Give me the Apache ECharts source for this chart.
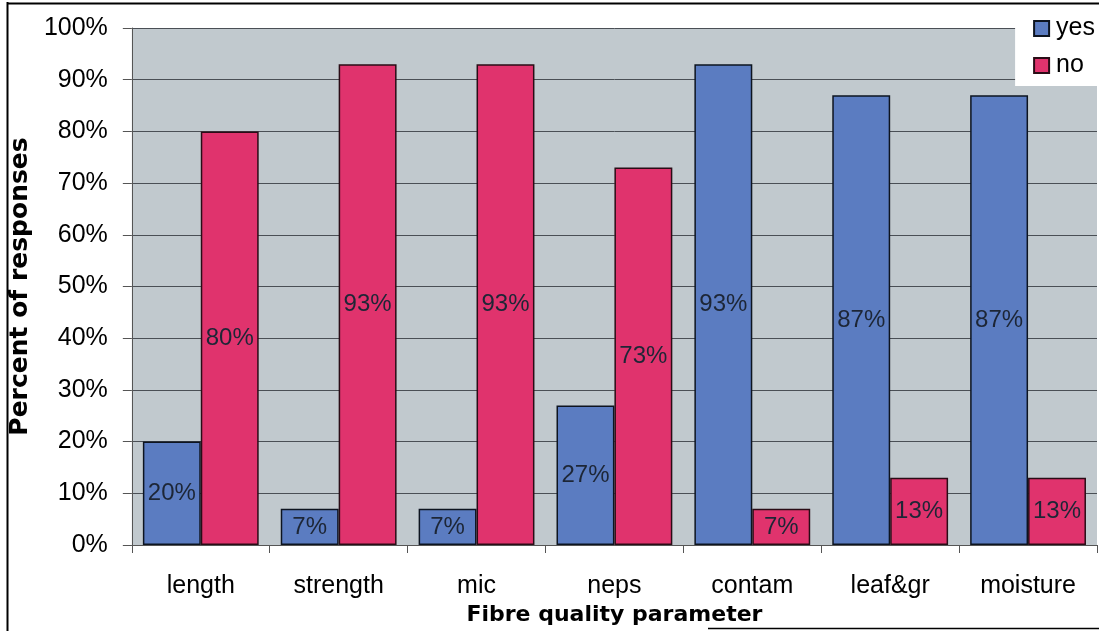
<!DOCTYPE html>
<html>
<head>
<meta charset="utf-8">
<script src="https://cdn.jsdelivr.net/npm/echarts@6/dist/echarts.min.js"></script>
<style>
  html, body { margin: 0; padding: 0; background: #ffffff; }
  #chart { width: 1099px; height: 631px; }
</style>
</head>
<body>
<div id="chart"></div>
<script>
// Survey: is each fibre quality parameter measured? (percent of responses)
const categories = ['length', 'strength', 'mic', 'neps', 'contam', 'leaf&gr', 'moisture'];
const yesValues = [20, 7, 7, 27, 93, 87, 87];
const noValues = [80, 93, 93, 73, 7, 13, 13];
const yTicks = { min: 0, max: 100, interval: 10 };

const FONT = '"Liberation Sans", Arial, sans-serif';
const TITLE_FONT = '"DejaVu Sans", "Liberation Sans", sans-serif';

const barLabel = {
  show: true,
  position: 'inside',
  formatter: p => p.value + '%',
  color: '#1d2636',
  fontFamily: FONT,
  fontSize: 24
};

const chart = echarts.init(document.getElementById('chart'), null, { renderer: 'canvas' });

chart.setOption({
  animation: false,
  backgroundColor: '#ffffff',
  graphic: [
    // outer frame
    { type: 'line', z: 100, shape: { x1: 7.5, y1: 2, x2: 7.5, y2: 631 }, style: { stroke: '#000', lineWidth: 2 } },
    { type: 'line', z: 100, shape: { x1: 7, y1: 3.5, x2: 1099, y2: 3.5 }, style: { stroke: '#000', lineWidth: 2 } },
    { type: 'line', z: 100, shape: { x1: 708, y1: 628.5, x2: 1099, y2: 628.5 }, style: { stroke: '#000', lineWidth: 1.5 } }
  ],
  grid: {
    left: 130, top: 28, right: 2, bottom: 86,
    show: true,
    backgroundColor: '#c1c9ce',
    borderWidth: 0
  },
  legend: {
    orient: 'vertical',
    right: 0,
    top: 6,
    padding: [10, 4, 8, 18],
    itemGap: 12,
    itemWidth: 15,
    itemHeight: 15,
    backgroundColor: '#ffffff',
    icon: 'rect',
    textStyle: { fontFamily: FONT, fontSize: 25, color: '#000', padding: [0, 0, 0, 2] },
    data: ['yes', 'no']
  },
  xAxis: {
    type: 'category',
    data: categories,
    name: 'Fibre quality parameter',
    nameLocation: 'middle',
    nameGap: 47,
    nameTextStyle: { fontFamily: TITLE_FONT, fontSize: 22, fontWeight: 'bold', color: '#000' },
    axisLine: { show: true, lineStyle: { color: '#555', width: 1 } },
    axisTick: { show: true, length: 8, alignWithLabel: false, lineStyle: { color: '#555' } },
    axisLabel: { margin: 29, fontFamily: FONT, fontSize: 25, color: '#000' }
  },
  yAxis: {
    type: 'value',
    min: yTicks.min,
    max: yTicks.max,
    interval: yTicks.interval,
    name: 'Percent of responses',
    nameLocation: 'middle',
    nameGap: 86,
    nameRotate: 90,
    nameTextStyle: { fontFamily: TITLE_FONT, fontSize: 25, fontWeight: 'bold', color: '#000' },
    axisLine: { show: true, lineStyle: { color: '#555', width: 1 } },
    axisTick: { show: true, length: 9, inside: false, lineStyle: { color: '#555' } },
    axisLabel: { margin: 24, formatter: '{value}%', fontFamily: FONT, fontSize: 25, color: '#000' },
    splitLine: { show: true, lineStyle: { color: '#4a4f55', width: 1 } }
  },
  series: [
    {
      name: 'yes',
      type: 'bar',
      data: yesValues,
      barGap: '0%',
      barCategoryGap: '16%',
      itemStyle: { color: '#5b7cc1', borderColor: '#0d1420', borderWidth: 1.5 },
      label: barLabel
    },
    {
      name: 'no',
      type: 'bar',
      data: noValues,
      itemStyle: { color: '#e0336d', borderColor: '#2a0c16', borderWidth: 1.5 },
      label: barLabel
    }
  ]
});
</script>
</body>
</html>
